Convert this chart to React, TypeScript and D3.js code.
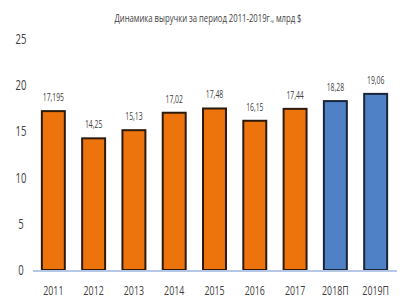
import React from "react";
import * as d3 from "d3";

const years = ["2011", "2012", "2013", "2014", "2015", "2016", "2017", "2018П", "2019П"];
const revenue = [17.195, 14.25, 15.13, 17.02, 17.48, 16.15, 17.44, 18.28, 19.06];
const valueLabels = ["17,195", "14,25", "15,13", "17,02", "17,48", "16,15", "17,44", "18,28", "19,06"];
const forecast = [false, false, false, false, false, false, false, true, true];
const yTicks = [0, 5, 10, 15, 20, 25];
const title = "Динамика выручки за период 2011-2019г.,  млрд $";

const W = 400;
const H = 302;
const FONT = "'Open Sans', sans-serif";
// Horizontal squeeze applied to the condensed-looking labels
const SQUEEZE = 0.68;

export default function App() {
  const x = d3.scaleBand<string>().domain(years).range([33, 396]).paddingInner(0.43).paddingOuter(0.22);
  const y = d3.scaleLinear().domain([0, 25]).range([270, 39]);
  const bw = x.bandwidth();

  return (
    <svg
      width={W}
      height={H}
      style={{ position: "absolute", left: 0, top: 0, background: "#fff" }}
      fontFamily={FONT}
    >
      <text x={208} y={22} textAnchor="middle" fontSize={11.5} fill="#404040" textLength={187} lengthAdjust="spacingAndGlyphs">
        {title}
      </text>

      {yTicks.map((t) => (
        <text key={t} transform={`translate(21,${y(t) + 5}) scale(${SQUEEZE},1)`} textAnchor="middle" fontSize={14} fill="#404040">
          {t}
        </text>
      ))}

      {years.map((yr, i) => {
        const x0 = x(yr)!;
        const cx = x0 + bw / 2;
        const fill = forecast[i] ? "#4F81C6" : "#ED730C";
        const stroke = forecast[i] ? "#1b2536" : "#2e1a0a";
        return (
          <g key={yr}>
            <rect x={x0} y={y(revenue[i])} width={bw} height={y(0) - y(revenue[i])} fill={fill} stroke={stroke} strokeWidth={2} />
            <text transform={`translate(${cx},${y(revenue[i]) - 10}) scale(${SQUEEZE},1)`} textAnchor="middle" fontSize={10} fill="#404040">
              {valueLabels[i]}
            </text>
            <text transform={`translate(${cx},295) scale(${SQUEEZE},1)`} textAnchor="middle" fontSize={13} fill="#404040">
              {yr}
            </text>
          </g>
        );
      })}

      <line x1={33} x2={397} y1={y(0) + 1} y2={y(0) + 1} stroke="#B4C7E7" strokeWidth={2} />
    </svg>
  );
}
